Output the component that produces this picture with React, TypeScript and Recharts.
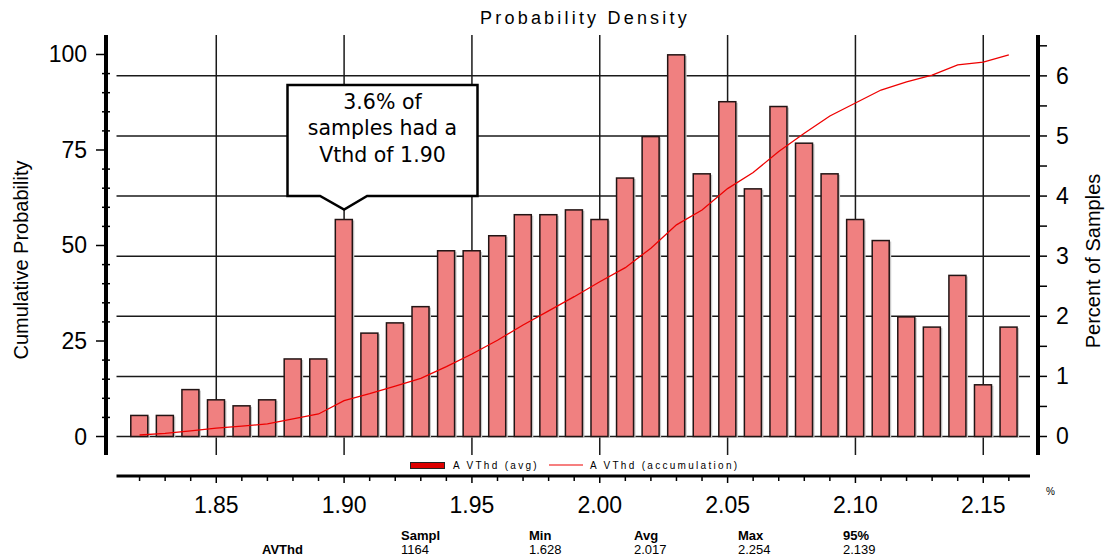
import React from 'react'
import { Bar, ComposedChart, Legend, Line, ReferenceDot, ReferenceLine, XAxis, YAxis } from 'recharts'

// Vthd bins (one bar each)
const vthdBins = [
  1.82, 1.83, 1.84, 1.85, 1.86, 1.87, 1.88, 1.89, 1.9, 1.91, 1.92, 1.93,
  1.94, 1.95, 1.96, 1.97, 1.98, 1.99, 2.0, 2.01, 2.02, 2.03, 2.04, 2.05,
  2.06, 2.07, 2.08, 2.09, 2.1, 2.11, 2.12, 2.13, 2.14, 2.15, 2.16
]
// A VThd (avg): percent of samples per bin (right axis)
const percentOfSamples = [
  0.35, 0.35, 0.78, 0.61, 0.51, 0.61, 1.29, 1.29, 3.61, 1.72, 1.89, 2.16,
  3.09, 3.09, 3.34, 3.69, 3.69, 3.77, 3.61, 4.3, 4.99, 6.35, 4.37, 5.57,
  4.12, 5.49, 4.88, 4.37, 3.61, 3.26, 1.99, 1.82, 2.68, 0.86, 1.82
]
// A VThd (accumulation): cumulative probability (left axis)
const cumulativeProbability = [
  0.4, 0.8, 1.5, 2.2, 2.7, 3.3, 4.6, 5.9, 9.4, 11.2, 13.2, 15.2,
  18.3, 21.6, 25.2, 29.2, 32.9, 36.6, 40.5, 44.2, 49.3, 55.4, 59.3, 64.9,
  69.1, 74.6, 79.4, 83.9, 87.3, 90.7, 92.8, 94.6, 97.3, 98.0, 99.9
]

const leftTicks = [0, 5, 10, 15, 20, 25, 30, 35, 40, 45, 50, 55, 60, 65, 70, 75, 80, 85, 90, 95, 100]
const rightTicks = [0, 0.5, 1, 1.5, 2, 2.5, 3, 3.5, 4, 4.5, 5, 5.5, 6, 6.5]
const gridPercents = [0, 1, 2, 3, 4, 5, 6]
const gridVthd = [1.85, 1.9, 1.95, 2.0, 2.05, 2.1, 2.15]

const calloutLines = ['3.6% of', 'samples had a', 'Vthd of 1.90']
const statHeaders = ['Sampl', 'Min', 'Avg', 'Max', '95%']
const statValues = ['1164', '1.628', '2.017', '2.254', '2.139']
const statRowLabel = 'AVThd'

const data = vthdBins.map((x, i) => ({ x, avg: percentOfSamples[i], acc: cumulativeProbability[i] }))

const FONT = '"Liberation Sans", Arial, sans-serif'
const X_DOMAIN: [number, number] = [1.80687, 2.17141]
const GRID_X: [number, number] = [1.81098, 2.16828]
const LEFT_DOMAIN: [number, number] = [-4.84, 105.1]
const RIGHT_DOMAIN: [number, number] = [-0.308, 6.68]
const BOTTOM_AXIS_Y = -0.657 // in right-axis units, sits below the plot
const statX = [401, 529, 634, 738, 843]

function LeftTick(props: any) {
  const { x, y, payload } = props
  const v = payload.value
  const major = v % 25 === 0
  return (
    <g>
      {major ? (
        <line x1={x - 10} x2={x} y1={y} y2={y} stroke="#000" strokeWidth={1.5} />
      ) : (
        <line x1={x - 4} x2={x + 4} y1={y} y2={y} stroke="#000" strokeWidth={1.5} />
      )}
      {major ? (
        <text x={x - 19} y={y} textAnchor="end" dominantBaseline="central" fontSize={23} fontFamily={FONT} fill="#000">
          {v}
        </text>
      ) : null}
    </g>
  )
}

function RightTick(props: any) {
  const { x, y, payload } = props
  const v = payload.value
  const major = Number.isInteger(v)
  return (
    <g>
      <line x1={x} x2={x + 9} y1={y} y2={y} stroke="#000" strokeWidth={1.5} />
      {major ? (
        <text x={x + 18} y={y} textAnchor="start" dominantBaseline="central" fontSize={23} fontFamily={FONT} fill="#000">
          {v}
        </text>
      ) : null}
    </g>
  )
}

function BottomTick(props: any) {
  const { x, y, payload } = props
  const v = payload.value as number
  const major = Math.abs(v * 20 - Math.round(v * 20)) < 1e-6
  return (
    <g>
      <line x1={x} x2={x} y1={y + 21} y2={y + (major ? 28 : 26)} stroke="#000" strokeWidth={1.5} />
      {major ? (
        <text x={x} y={y + 50} textAnchor="middle" dominantBaseline="central" fontSize={23} fontFamily={FONT} fill="#000">
          {v.toFixed(2)}
        </text>
      ) : null}
    </g>
  )
}

function ShadedBar(props: any) {
  const { x, y, width, height } = props
  if (!height || height <= 0) return null
  return (
    <g>
      <rect x={x + 2} y={y + 1} width={width} height={height} fill="#c9c9c9" />
      <rect x={x} y={y} width={width} height={height} fill="#f08080" stroke="#221414" strokeWidth={1.5} />
    </g>
  )
}

function Callout(props: any) {
  const { cx, cy } = props
  const top = cy - 134.5
  const bottom = cy - 23.5
  const left = cx - 56.6
  const right = cx + 133.4
  const tip = cy - 10
  const d = `M${left},${top} H${right} V${bottom} H${cx + 23} L${cx},${tip} L${cx - 24},${bottom} H${left} Z`
  return (
    <g>
      <path d={d} fill="#fff" stroke="#000" strokeWidth={2.5} strokeLinejoin="miter" />
      {calloutLines.map((line, i) => (
        <text
          key={line}
          x={(left + right) / 2}
          y={top + 16.7 + i * 26.7}
          textAnchor="middle"
          dominantBaseline="central"
          fontSize={20.5}
          fontFamily='"DejaVu Sans", Verdana, sans-serif'
          fill="#000"
        >
          {line}
        </text>
      ))}
    </g>
  )
}

function LegendContent(props: any) {
  const payload = [...(props.payload || [])].sort((a: any, b: any) => (a.type === 'rect' ? -1 : 0) - (b.type === 'rect' ? -1 : 0))
  return (
    <div style={{ display: 'flex', alignItems: 'center', height: 14, fontFamily: FONT, fontSize: 10, letterSpacing: 2.3, color: '#000', whiteSpace: 'nowrap' }}>
      {payload.map((entry: any) =>
        entry.type === 'rect' ? (
          <React.Fragment key={entry.value}>
            <span style={{ display: 'inline-block', width: 33, height: 5, background: '#dd0000', border: '1px solid #222', marginRight: 8 }} />
            <span style={{ marginRight: 10 }}>{entry.value}</span>
          </React.Fragment>
        ) : (
          <React.Fragment key={entry.value}>
            <svg width={34} height={4} style={{ marginRight: 7, display: 'block' }}>
              <line x1={0} x2={34} y1={2} y2={2} stroke="#ee0000" strokeWidth={1.2} />
            </svg>
            <span>{entry.value}</span>
          </React.Fragment>
        )
      )}
    </div>
  )
}

export default function App() {
  return (
    <div style={{ position: 'absolute', left: 0, top: 0, width: 1106, height: 560, background: '#fff', fontFamily: FONT }}>
      <ComposedChart width={1106} height={560} data={data} margin={{ top: 35, right: 0, bottom: 0, left: 0 }}>
        <XAxis
          dataKey="x"
          type="number"
          domain={X_DOMAIN}
          allowDataOverflow
          ticks={vthdBins}
          interval={0}
          height={105}
          axisLine={false}
          tickLine={false}
          tickSize={0}
          tickMargin={0}
          tick={<BottomTick />}
        />
        <YAxis
          yAxisId="left"
          orientation="left"
          type="number"
          domain={LEFT_DOMAIN}
          allowDataOverflow
          ticks={leftTicks}
          interval={0}
          width={106}
          axisLine={{ stroke: '#000', strokeWidth: 4 }}
          tickLine={false}
          tickSize={0}
          tickMargin={0}
          tick={<LeftTick />}
          label={(p: any) => {
            const vb = p.viewBox
            const cx = 21
            const cy = vb.y + vb.height / 2 + 15
            return (
              <text x={cx} y={cy} transform={`rotate(-90, ${cx}, ${cy})`} textAnchor="middle" dominantBaseline="central" fontSize={20} fontFamily={FONT} fill="#000">
                Cumulative Probability
              </text>
            )
          }}
        />
        <YAxis
          yAxisId="right"
          orientation="right"
          type="number"
          domain={RIGHT_DOMAIN}
          allowDataOverflow
          ticks={rightTicks}
          interval={0}
          width={68}
          axisLine={{ stroke: '#000', strokeWidth: 4 }}
          tickLine={false}
          tickSize={0}
          tickMargin={0}
          tick={<RightTick />}
          label={(p: any) => {
            const vb = p.viewBox
            const cx = 1093
            const cy = vb.y + vb.height / 2 + 16
            return (
              <text x={cx} y={cy} transform={`rotate(-90, ${cx}, ${cy})`} textAnchor="middle" dominantBaseline="central" fontSize={20} fontFamily={FONT} fill="#000">
                Percent of Samples
              </text>
            )
          }}
        />
        {gridVthd.map((v) => (
          <ReferenceLine key={`v${v}`} x={v} yAxisId="right" stroke="#1a1a1a" strokeWidth={1.5} zIndex={-100} />
        ))}
        {gridPercents.map((p) => (
          <ReferenceLine
            key={`h${p}`}
            yAxisId="right"
            segment={[{ x: GRID_X[0], y: p }, { x: GRID_X[1], y: p }]}
            stroke="#1a1a1a"
            strokeWidth={1.5}
            zIndex={-100}
          />
        ))}
        <ReferenceLine
          yAxisId="right"
          ifOverflow="visible"
          segment={[{ x: GRID_X[0], y: BOTTOM_AXIS_Y }, { x: GRID_X[1], y: BOTTOM_AXIS_Y }]}
          stroke="#000"
          strokeWidth={3}
        />
        <Bar
          yAxisId="right"
          dataKey="avg"
          name="A VThd (avg)"
          legendType="rect"
          barSize={17}
          shape={<ShadedBar />}
          isAnimationActive={false}
        />
        <Line
          yAxisId="left"
          dataKey="acc"
          name="A VThd (accumulation)"
          legendType="line"
          type="linear"
          stroke="#ee0000"
          strokeWidth={1.3}
          dot={false}
          activeDot={false}
          isAnimationActive={false}
        />
        <ReferenceDot yAxisId="right" x={1.9} y={3.61} ifOverflow="visible" shape={<Callout />} />
        <Legend
          layout="horizontal"
          verticalAlign="middle"
          align="center"
          wrapperStyle={{ top: 458, left: 410, width: 420, height: 14 }}
          content={<LegendContent />}
        />
      </ComposedChart>
      <div style={{ position: 'absolute', left: 0, top: 8, width: 1170, textAlign: 'center', fontSize: 18, lineHeight: '21px', letterSpacing: 3.2, color: '#000' }}>
        Probability Density
      </div>
      <div style={{ position: 'absolute', left: 1046, top: 486, fontSize: 10, lineHeight: '12px', color: '#000' }}>%</div>
      {statHeaders.map((h, i) => (
        <div key={h} style={{ position: 'absolute', left: statX[i], top: 528, fontSize: 13, lineHeight: '16px', fontWeight: 'bold', color: '#000' }}>
          {h}
        </div>
      ))}
      <div style={{ position: 'absolute', left: 262, top: 542, fontSize: 13, lineHeight: '16px', fontWeight: 'bold', color: '#000' }}>
        {statRowLabel}
      </div>
      {statValues.map((v, i) => (
        <div key={statHeaders[i]} style={{ position: 'absolute', left: statX[i], top: 542, fontSize: 13, lineHeight: '16px', color: '#000' }}>
          {v}
        </div>
      ))}
    </div>
  )
}
